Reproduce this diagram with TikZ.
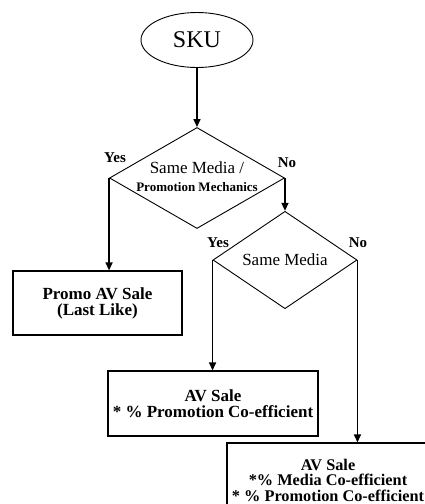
\documentclass[tikz,border=0pt]{standalone}
\usepackage{fontspec}
\setmainfont{Liberation Serif}
\usetikzlibrary{arrows.meta,positioning,shapes.geometric}
\newcommand{\fsz}[1]{\fontsize{#1}{#1}\selectfont}
\tikzset{
  start/.style={ellipse, draw, line width=0.9pt, minimum width=112pt, minimum height=55pt, inner sep=0pt, font=\fsz{24}},
  dec/.style={diamond, draw, line width=0.9pt, inner sep=0pt, font=\fsz{17}},
  dtxt/.style={align=center, inner sep=0pt, font=\fsz{17}},
  yn/.style={inner sep=0pt, font=\fsz{15}\bfseries},
  res/.style={rectangle, draw, line width=1.2pt, align=center, inner sep=0pt, font=\fontsize{17}{16}\selectfont\bfseries},
  flow/.style={-{Triangle[length=8pt, width=7pt]}, line width=1.6pt},
}

\begin{document}
\begin{tikzpicture}[x=1pt, y=-1pt]
  \useasboundingbox (0,0) rectangle (425,504);
  \clip (0,0) rectangle (425,504);
  % start and decisions
  \node[start] (sku) at (197,40) {SKU};
  \node[dec, minimum width=175pt, minimum height=101pt] (d1) at (197,178) {};
  \node[dtxt] (d1t) at (197,177) {Same Media /\\[1pt]{\fsz{13}\bfseries Promotion Mechanics}};
  \node[dec, minimum width=144pt, minimum height=65pt] (d2) at (285,260) {Same Media};
  % outcomes
  \node[res, minimum width=169pt, minimum height=64pt] (promo) at (97.5,303) {Promo AV Sale\\(Last Like)};
  \node[res, minimum width=210pt, minimum height=65pt] (av1) at (213,403.5) {AV Sale\\* \% Promotion Co-efficient};
  \node[res, minimum width=202pt, minimum height=74pt, font=\fontsize{16.3}{15.5}\selectfont\bfseries] (av2) at (328,480) {AV Sale\\*\% Media Co-efficient\\* \% Promotion Co-efficient};
  % yes / no
  \node[yn] (yes1) at (115,158) {Yes};
  \node[yn] (no1) at (287,163) {No};
  \node[yn] (yes2) at (218,243) {Yes};
  \node[yn] (no2) at (358,243) {No};
  % connectors
  \draw[flow] (sku) -- (d1);
  \draw[flow] (d1.west) -- (d1.west |- promo.north);
  \draw[flow] (d1.east) -- (d2.north);
  \draw[flow] (d2.west) -- (d2.west |- av1.north);
  \draw[flow] (d2.east) -- (d2.east |- av2.north);
\end{tikzpicture}
\end{document}
